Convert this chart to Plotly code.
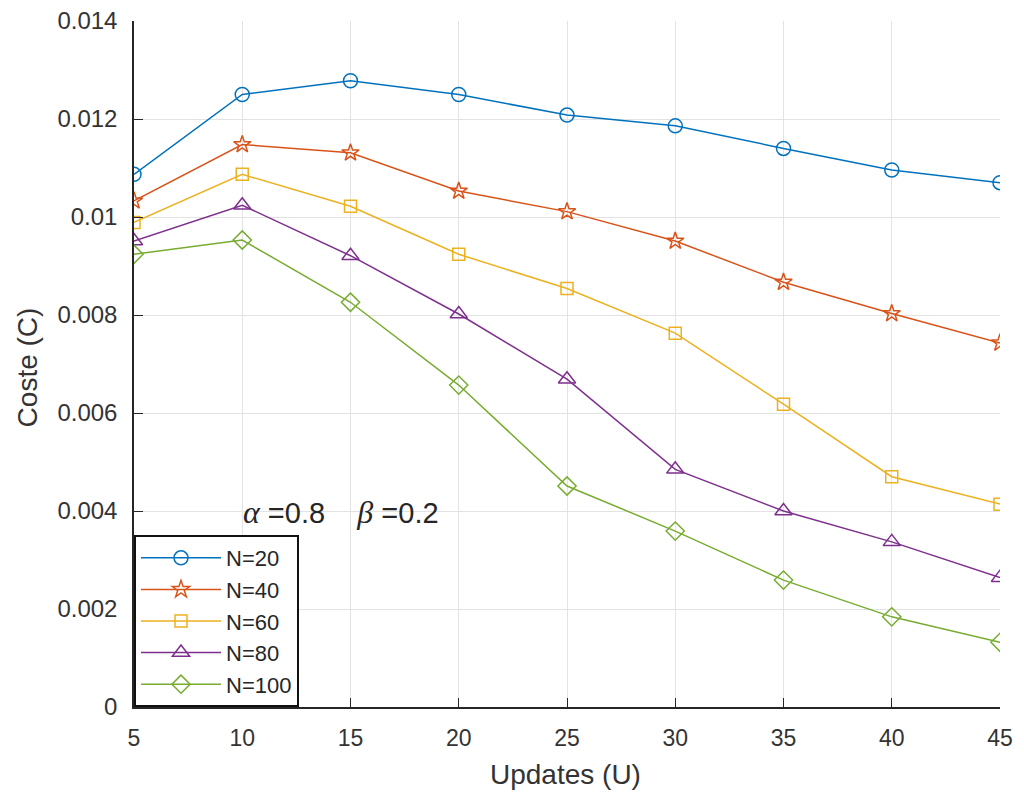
import plotly.graph_objects as go

updates = [5, 10, 15, 20, 25, 30, 35, 40, 45]
series_names = ["N=20", "N=40", "N=60", "N=80", "N=100"]
cost_n20 = [0.01087, 0.01250, 0.01278, 0.01250, 0.01208, 0.01186, 0.01140, 0.01096, 0.01070]
cost_n40 = [0.01033, 0.01148, 0.01131, 0.01053, 0.01011, 0.00951, 0.00867, 0.00803, 0.00743]
cost_n60 = [0.00989, 0.01087, 0.01022, 0.00924, 0.00854, 0.00763, 0.00618, 0.00470, 0.00414]
cost_n80 = [0.00951, 0.01024, 0.00921, 0.00802, 0.00669, 0.00485, 0.00400, 0.00337, 0.00264]
cost_n100 = [0.00924, 0.00953, 0.00826, 0.00657, 0.00451, 0.00359, 0.00259, 0.00184, 0.00132]
y_tickvals = [0, 0.002, 0.004, 0.006, 0.008, 0.010, 0.012, 0.014]
y_ticktext = ["0", "0.002", "0.004", "0.006", "0.008", "0.01", "0.012", "0.014"]
x_tickvals = [5, 10, 15, 20, 25, 30, 35, 40, 45]

all_series = [cost_n20, cost_n40, cost_n60, cost_n80, cost_n100]
colors = ["#0072BD", "#D95319", "#EDB120", "#7E2F8E", "#77AC30"]
symbols = ["circle-open", "star-open", "square-open", "triangle-up-open", "diamond-open"]
sizes = [14, 13, 12, 15, 14]

FONT = "Liberation Sans, Arial, Helvetica, sans-serif"
SERIF = "Liberation Serif, Times New Roman, serif"

fig = go.Figure()
for name, vals, c, s, sz in zip(series_names, all_series, colors, symbols, sizes):
    fig.add_trace(go.Scatter(
        x=updates, y=vals, name=name, mode="lines+markers",
        line=dict(color=c, width=1.5),
        marker=dict(symbol=s, size=sz, color=c, line=dict(color=c, width=1.5)),
    ))

fig.add_annotation(
    x=9.92, y=0.00397, xref="x", yref="y", xanchor="left", yanchor="middle",
    showarrow=False,
    text=(f"<span style='font-family:{SERIF};font-size:32px'><i>α</i></span>"
          "&nbsp;=0.8&nbsp;&nbsp;&nbsp;&nbsp;"
          f"<span style='font-family:{SERIF};font-size:32px'><i>β</i></span>"
          "&nbsp;=0.2"),
    font=dict(family=FONT, size=29, color="#262626"),
)

# axis titles
fig.add_annotation(
    x=-0.1236, y=0.495, xref="paper", yref="paper", xanchor="center", yanchor="middle",
    showarrow=False, textangle=-90, text="Coste (C)",
    font=dict(family=FONT, size=28, color="#333333"),
)
fig.add_annotation(
    x=0.498, y=-0.099, xref="paper", yref="paper", xanchor="center", yanchor="middle",
    showarrow=False, text="Updates (U)",
    font=dict(family=FONT, size=28, color="#333333"),
)

fig.update_layout(
    width=1024, height=797,
    margin=dict(l=134, r=24, t=21, b=90),
    paper_bgcolor="white", plot_bgcolor="white",
    font=dict(family=FONT, size=23, color="#333333"),
    showlegend=True,
    legend=dict(
        x=0, y=0, xanchor="left", yanchor="bottom",
        bgcolor="white", bordercolor="#111111", borderwidth=2,
        font=dict(family=FONT, size=22, color="#262626"),
        tracegroupgap=0, itemwidth=80,
    ),
    xaxis=dict(
        range=[5, 45], tickvals=x_tickvals, ticks="inside", ticklen=9,
        tickcolor="#262626", showline=True, linecolor="#262626", linewidth=1.5,
        showgrid=True, gridcolor="#e3e3e3", gridwidth=1, zeroline=False,
        automargin=False,
        tickfont=dict(size=23, color="#333333"), ticklabelstandoff=10,
    ),
    yaxis=dict(
        range=[0, 0.014], tickvals=y_tickvals, ticktext=y_ticktext, ticks="inside", ticklen=9,
        tickcolor="#262626", showline=True, linecolor="#262626", linewidth=1.5,
        showgrid=True, gridcolor="#e3e3e3", gridwidth=1, zeroline=False,
        automargin=False,
        tickfont=dict(size=24, color="#333333"), ticklabelstandoff=10,
    ),
)

fig.write_html("out.html")
